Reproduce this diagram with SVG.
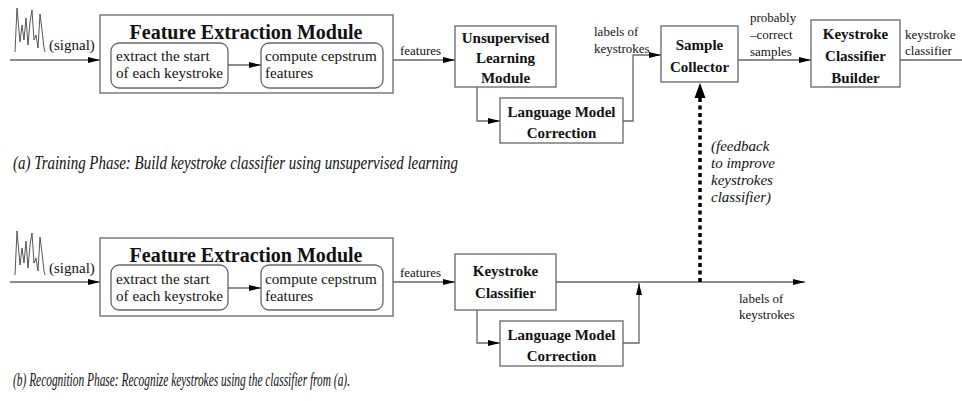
<svg xmlns="http://www.w3.org/2000/svg" width="962" height="401" viewBox="0 0 962 401" font-family="'Liberation Serif', 'DejaVu Serif', serif">
<style>
.box{fill:#fff;stroke:#666;stroke-width:1.3}
.rbox{fill:#fff;stroke:#666;stroke-width:1.3}
.ln{fill:none;stroke:#666;stroke-width:1.3}
.wave{fill:none;stroke:#444;stroke-width:0.9}
text{font-family:'Liberation Serif','DejaVu Serif',serif;fill:#111}
.t{font-size:15px}
.ti{font-size:15.2px}
.tb{font-size:20px;font-weight:bold}
.b{font-size:15px;font-weight:bold}
.s{font-size:13px}
.it{font-style:italic}
</style>
<defs>
<marker id="ah" viewBox="0 0 12 6" refX="12" refY="3" markerWidth="12" markerHeight="6" markerUnits="userSpaceOnUse" orient="auto">
<path d="M0,0 L12,3 L0,6 Z" fill="#000"/>
</marker>
</defs>

<!-- (a) training phase -->
<g id="signal-a">
<polyline class="wave" points="15,52 17,8 20,42 22,25 24,40 26,18 28,45 30,22 32,10 34,40 36,35 38,48 40,14 42,30 44,48 45,52"/>
<text class="t" x="49" y="50">(signal)</text>
</g>
<g id="fem-a">
<rect class="box" x="100" y="15" width="293" height="78"/>
<text class="tb" x="246" y="39" text-anchor="middle">Feature Extraction Module</text>
<rect class="rbox" x="111" y="43" width="117" height="45" rx="8"/>
<text class="ti" x="116" y="61">extract the start</text>
<text class="ti" x="116" y="78">of each keystroke</text>
<rect class="rbox" x="261" y="43" width="122" height="45" rx="8"/>
<text class="ti" x="265" y="61">compute cepstrum</text>
<text class="ti" x="265" y="78">features</text>
</g>
<g id="ulm">
<rect class="box" x="455" y="26" width="101" height="61"/>
<text class="b" x="505.5" y="43" text-anchor="middle">Unsupervised</text>
<text class="b" x="505.5" y="63" text-anchor="middle">Learning</text>
<text class="b" x="505.5" y="83" text-anchor="middle">Module</text>
</g>
<g id="lmc-a">
<rect class="box" x="500" y="98" width="123" height="45"/>
<text class="b" x="561.5" y="117" text-anchor="middle">Language Model</text>
<text class="b" x="561.5" y="138" text-anchor="middle">Correction</text>
</g>
<g id="sc">
<rect class="box" x="661" y="26" width="77" height="56"/>
<text class="b" x="699.5" y="50" text-anchor="middle">Sample</text>
<text class="b" x="699.5" y="72" text-anchor="middle">Collector</text>
</g>
<g id="kcb">
<rect class="box" x="811" y="20" width="89" height="67"/>
<text class="b" x="855.5" y="39" text-anchor="middle">Keystroke</text>
<text class="b" x="855.5" y="61" text-anchor="middle">Classifier</text>
<text class="b" x="855.5" y="83" text-anchor="middle">Builder</text>
</g>
<text class="it" x="13" y="169" font-size="18.5" textLength="445" lengthAdjust="spacingAndGlyphs">(a) Training Phase: Build keystroke classifier using unsupervised learning</text>

<!-- (b) recognition phase -->
<g id="signal-b">
<polyline class="wave" points="15,275 17,231 20,265 22,248 24,263 26,241 28,268 30,245 32,233 34,263 36,258 38,271 40,237 42,253 44,271 45,275"/>
<text class="t" x="49" y="273">(signal)</text>
</g>
<g id="fem-b">
<rect class="box" x="100" y="238" width="293" height="78"/>
<text class="tb" x="246" y="262" text-anchor="middle">Feature Extraction Module</text>
<rect class="rbox" x="111" y="265" width="117" height="45" rx="8"/>
<text class="ti" x="116" y="284">extract the start</text>
<text class="ti" x="116" y="301">of each keystroke</text>
<rect class="rbox" x="261" y="265" width="122" height="45" rx="8"/>
<text class="ti" x="265" y="284">compute cepstrum</text>
<text class="ti" x="265" y="301">features</text>
</g>
<g id="kc">
<rect class="box" x="455" y="254" width="101" height="56"/>
<text class="b" x="505.5" y="276" text-anchor="middle">Keystroke</text>
<text class="b" x="505.5" y="298" text-anchor="middle">Classifier</text>
</g>
<g id="lmc-b">
<rect class="box" x="500" y="321" width="123" height="45"/>
<text class="b" x="561.5" y="340" text-anchor="middle">Language Model</text>
<text class="b" x="561.5" y="361" text-anchor="middle">Correction</text>
</g>
<text class="it" x="13" y="386" font-size="18.5" textLength="337" lengthAdjust="spacingAndGlyphs">(b) Recognition Phase: Recognize keystrokes using the classifier from (a).</text>

<!-- connectors -->
<g id="connectors">
<line class="ln" x1="10" y1="60" x2="100" y2="60" marker-end="url(#ah)"/>
<line class="ln" x1="228" y1="65" x2="261" y2="65" marker-end="url(#ah)"/>
<line class="ln" x1="393" y1="60" x2="455" y2="60" marker-end="url(#ah)"/>
<text class="s" x="400" y="55">features</text>
<polyline class="ln" points="477,87 477,121 500,121" marker-end="url(#ah)"/>
<polyline class="ln" points="623,121 633,121 633,55 661,55" marker-end="url(#ah)"/>
<text class="s" x="594" y="36">labels of</text>
<text class="s" x="594" y="53">keystrokes</text>
<line class="ln" x1="738" y1="60" x2="811" y2="60" marker-end="url(#ah)"/>
<text class="s" x="750" y="22">probably</text>
<text class="s" x="750" y="39">–correct</text>
<text class="s" x="750" y="56">samples</text>
<line class="ln" x1="900" y1="60" x2="962" y2="60"/>
<text class="s" x="905" y="39">keystroke</text>
<text class="s" x="905" y="55">classifier</text>

<line class="ln" x1="10" y1="282" x2="100" y2="282" marker-end="url(#ah)"/>
<line class="ln" x1="228" y1="288" x2="261" y2="288" marker-end="url(#ah)"/>
<line class="ln" x1="393" y1="282" x2="455" y2="282" marker-end="url(#ah)"/>
<text class="s" x="400" y="277">features</text>
<line class="ln" x1="556" y1="282" x2="805" y2="282" marker-end="url(#ah)"/>
<polyline class="ln" points="477,310 477,343 500,343" marker-end="url(#ah)"/>
<polyline class="ln" points="623,343 639,343 639,283" marker-end="url(#ah)"/>
<text class="s" x="739" y="303">labels of</text>
<text class="s" x="739" y="319">keystrokes</text>

<line x1="700" y1="282" x2="700" y2="98" stroke="#000" stroke-width="3.5" stroke-dasharray="4,3.5"/>
<path d="M694.5,98 L700,83 L705.5,98 Z" fill="#000"/>
<text class="it" font-size="15" x="711" y="151">(feedback</text>
<text class="it" font-size="15" x="711" y="168">to improve</text>
<text class="it" font-size="15" x="711" y="185">keystrokes</text>
<text class="it" font-size="15" x="711" y="202">classifier)</text>
</g>
</svg>
